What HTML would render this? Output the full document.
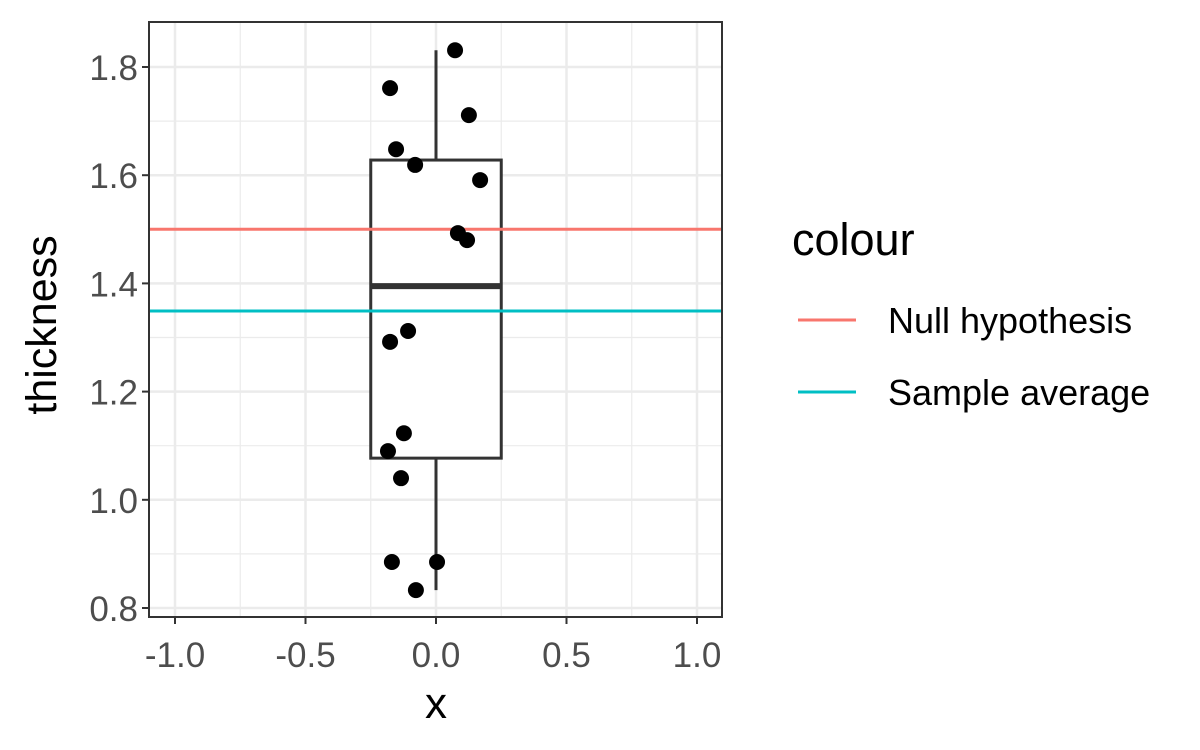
<!DOCTYPE html>
<html><head><meta charset="utf-8"><style>body{margin:0;background:#fff}svg{display:block;font-family:"Liberation Sans",sans-serif}</style></head>
<body>
<svg id="c" width="1200" height="750"></svg>
<script>
const xs=[0.073,-0.176,0.126,-0.153,-0.080,0.169,0.084,0.119,-0.107,-0.176,-0.123,-0.184,-0.134,-0.169,0.004,-0.077];
const ys=[1.831,1.761,1.711,1.648,1.619,1.591,1.493,1.480,1.312,1.292,1.123,1.090,1.040,0.885,0.885,0.833];
const boxStats=[0.833,1.077,1.395,1.628,1.831];
const refLines=[1.5,1.349];
const refNames=["Null hypothesis","Sample average"];
const refColors=["#F8766D","#00BFC4"];
const xTicks=[-1,-0.5,0,0.5,1];
const xTickLabels=["-1.0","-0.5","0.0","0.5","1.0"];
const yTicks=[0.8,1.0,1.2,1.4,1.6,1.8];
const yTickLabels=["0.8","1.0","1.2","1.4","1.6","1.8"];
const X=v=>436+v*261, Y=v=>608-(v-0.8)*541;
const L=149,R=722,T=22,B=617;
const s=document.getElementById('c');
function add(tag,a,name,txt){let e=document.createElementNS('http://www.w3.org/2000/svg',tag);for(const k in a)e.setAttribute(k,a[k]);


if(txt!==undefined)e.textContent=txt;s.appendChild(e);return e;}
for(let i=0;i<xTicks.length-1;i++){const m=X((xTicks[i]+xTicks[i+1])/2);add('line',{x1:m,x2:m,y1:T,y2:B,stroke:'#ebebeb','stroke-width':1.2},'minor-grid-x');}
for(let i=0;i<yTicks.length-1;i++){const m=Y((yTicks[i]+yTicks[i+1])/2);add('line',{x1:L,x2:R,y1:m,y2:m,stroke:'#ebebeb','stroke-width':1.2},'minor-grid-y');}
xTicks.forEach((v,i)=>{add('line',{x1:X(v),x2:X(v),y1:T,y2:B,stroke:'#ebebeb','stroke-width':2.5},'major-grid-x');
add('line',{x1:X(v),x2:X(v),y1:B,y2:B+7,stroke:'#333','stroke-width':2},'x-tick');
add('text',{x:X(v),y:B+50,'font-size':35,fill:'#4d4d4d','text-anchor':'middle'},'x-tick-label',xTickLabels[i]);});
yTicks.forEach((v,i)=>{add('line',{x1:L,x2:R,y1:Y(v),y2:Y(v),stroke:'#ebebeb','stroke-width':2.5},'major-grid-y');
add('line',{x1:L-7,x2:L,y1:Y(v),y2:Y(v),stroke:'#333','stroke-width':2},'y-tick');
add('text',{x:L-11,y:Y(v)+13,'font-size':35,fill:'#4d4d4d','text-anchor':'end'},'y-tick-label',yTickLabels[i]);});
const [mn,q1,md,q3,mx]=boxStats;
add('line',{x1:X(0),x2:X(0),y1:Y(mx),y2:Y(q3),stroke:'#333','stroke-width':3},'upper-whisker');
add('line',{x1:X(0),x2:X(0),y1:Y(q1),y2:Y(mn),stroke:'#333','stroke-width':3},'lower-whisker');
add('rect',{x:X(-0.25),y:Y(q3),width:X(0.25)-X(-0.25),height:Y(q1)-Y(q3),fill:'#fff',stroke:'#333','stroke-width':3},'box');
add('line',{x1:X(-0.25),x2:X(0.25),y1:Y(md),y2:Y(md),stroke:'#333','stroke-width':6},'median-line');
refLines.forEach((v,i)=>add('line',{x1:L,x2:R,y1:Y(v),y2:Y(v),stroke:refColors[i],'stroke-width':3},'ref-line-'+i));
xs.forEach((v,i)=>add('circle',{cx:X(v),cy:Y(ys[i]),r:8,fill:'#000'},'data-point'));
add('rect',{x:L,y:T,width:R-L,height:B-T,fill:'none',stroke:'#333','stroke-width':2},'panel-border');
add('text',{x:436,y:718,'font-size':44,fill:'#000','text-anchor':'middle'},'x-axis-title','x');
add('text',{x:56,y:325,'font-size':43,fill:'#000','text-anchor':'middle',transform:'rotate(-90 56 325)'},'y-axis-title','thickness');
add('text',{x:792,y:255,'font-size':45,fill:'#000'},'legend-title','colour');
refNames.forEach((n,i)=>{const y=320+i*72;add('line',{x1:798,x2:856,y1:y,y2:y,stroke:refColors[i],'stroke-width':3},'legend-key');
add('text',{x:888,y:y+13,'font-size':36,fill:'#000'},'legend-entry',n);});
</script>
</body></html>
